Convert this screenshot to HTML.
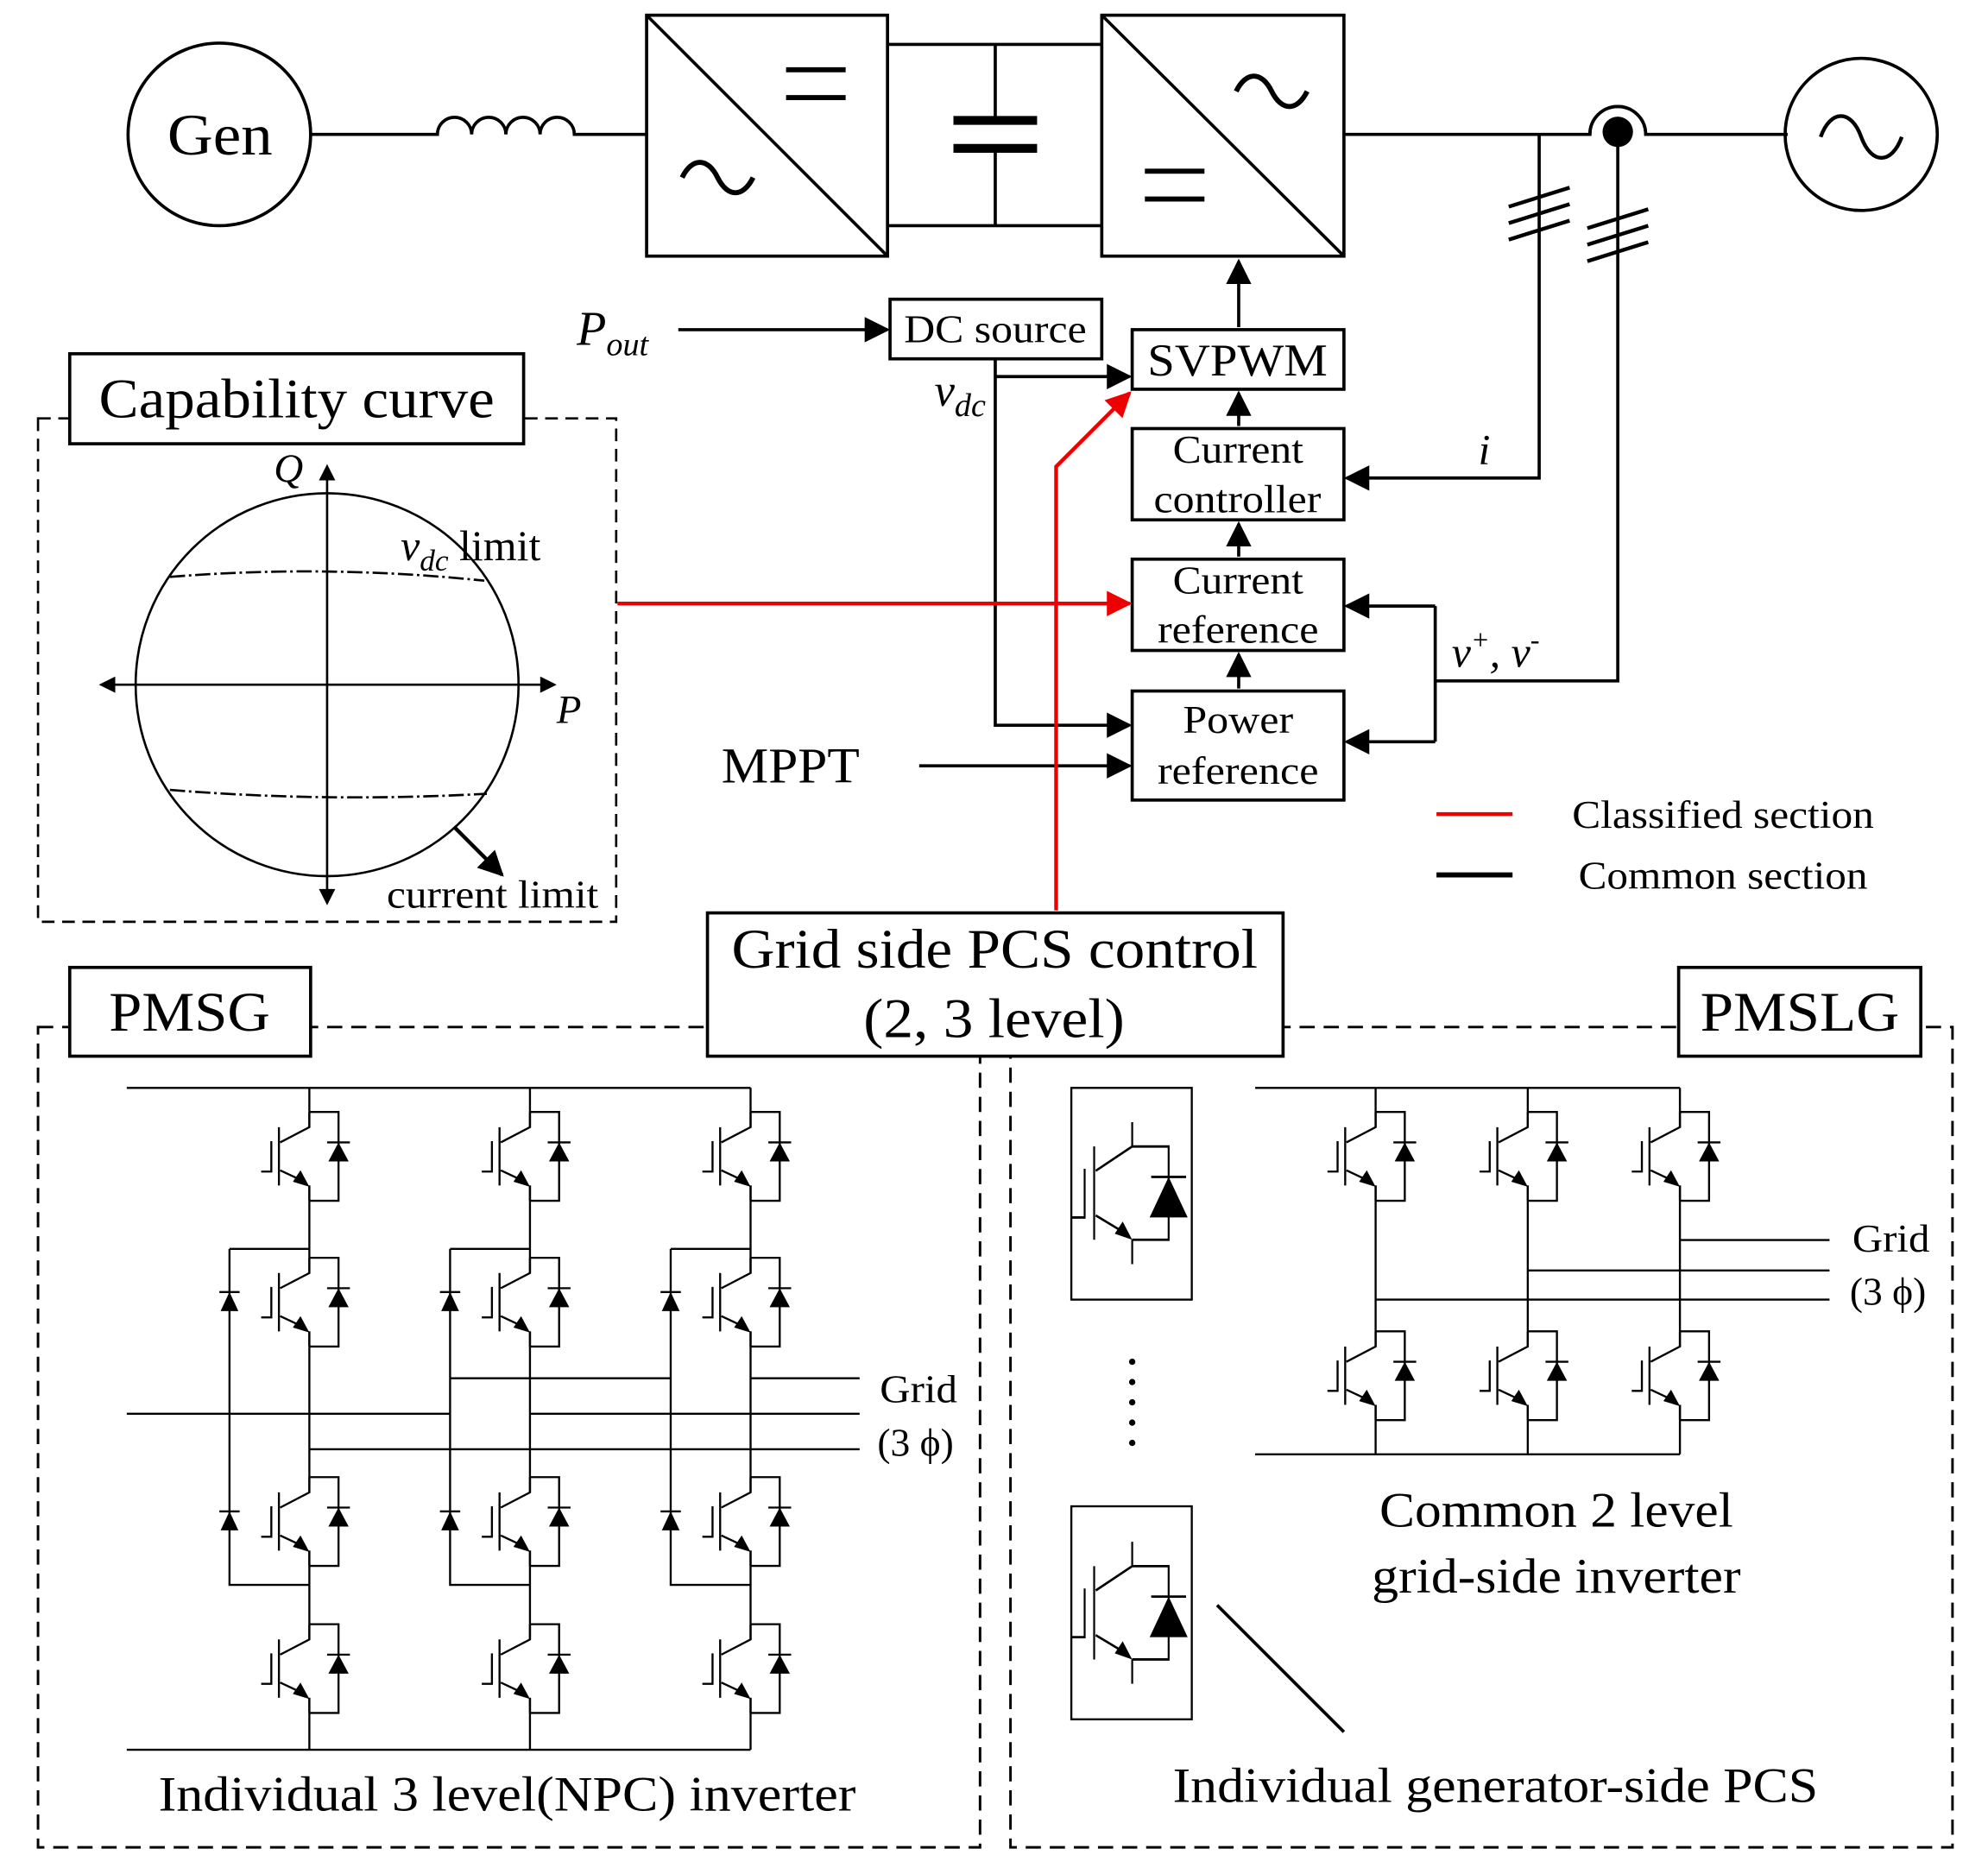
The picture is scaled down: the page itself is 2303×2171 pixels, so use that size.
<!DOCTYPE html>
<html><head><meta charset="utf-8"><style>html,body{margin:0;padding:0;background:#fff}svg{display:block}</style></head>
<body>
<svg width="2303" height="2171" viewBox="0 0 1568 1478" preserveAspectRatio="none" xmlns="http://www.w3.org/2000/svg" font-family="Liberation Serif, serif">
<defs>
<g id="ig">
<path d="M0,-35V-23L-23,-11M-24,-23V23M-30,-12V12H-38M-23,11L-6,19M0,23V35M0,-35H23V35H0M14,-11H32" fill="none" stroke="#000" stroke-width="1.6"/>
<polygon points="0,24 -13,20 -7,11" fill="#000"/>
<polygon points="23,-11 15,4 31,4" fill="#000"/>
</g>
<g id="dd"><path d="M-8,-8H8" stroke="#000" stroke-width="1.6"/><polygon points="0,-8 -7,7 7,7" fill="#000"/></g>
<marker id="abig" markerWidth="20" markerHeight="20" refX="18" refY="10" orient="auto" markerUnits="userSpaceOnUse"><path d="M0,0L20,10L0,20z" fill="#000"/></marker>
<marker id="arbig" markerWidth="20" markerHeight="20" refX="18" refY="10" orient="auto" markerUnits="userSpaceOnUse"><path d="M0,0L20,10L0,20z" fill="#e00"/></marker>
</defs>
<g fill="none" stroke="#000" stroke-width="2.5">
<circle cx="173" cy="106" r="72"/>
<path d="M245,106H345a13,13 0 0 1 27,0a13,13 0 0 1 27,0a13,13 0 0 1 27,0a13,13 0 0 1 27,0H510"/>
<rect x="510" y="12" width="190" height="190"/><path d="M510,12L700,202"/>
<path d="M620,55H667M620,77H667" stroke-width="4"/>
<path d="M538,140c8,-16 20,-16 28,0s20,16 28,0" stroke-width="4"/>
<path d="M700,35H869M700,178H869M785,35V95M785,117V178"/>
<path d="M752,95H818M752,117H818" stroke-width="7"/>
<rect x="869" y="12" width="191" height="190"/><path d="M869,12L1060,202"/>
<path d="M975,72c8,-16 20,-16 28,0s20,16 28,0" stroke-width="4"/>
<path d="M903,135H950M903,157H950" stroke-width="4"/>
<path d="M1060,106H1254a22,22 0 0 1 44,0H1410"/>
<circle cx="1468" cy="106" r="60"/>
<path d="M1436,108c8,-22 24,-22 32,0s24,22 32,0" stroke-width="3"/>
<path d="M1214,106V377H1062" marker-end="url(#abig)"/>
<path d="M1276,104V537H1132M1132,478V585"/>
<path d="M1132,478H1062" marker-end="url(#abig)"/><path d="M1132,585H1062" marker-end="url(#abig)"/>
<path d="M1190,163L1238,148M1190,176L1238,161M1190,189L1238,174M1252,180L1300,165M1252,193L1300,178M1252,206L1300,191" stroke-width="3"/>
<rect x="893" y="260" width="167" height="47"/>
<rect x="893" y="338" width="167" height="72"/>
<rect x="893" y="441" width="167" height="72"/>
<rect x="893" y="545" width="167" height="86"/>
<rect x="702" y="236" width="167" height="47"/>
<path d="M977,258V206" marker-end="url(#abig)"/>
<path d="M977,336V310" marker-end="url(#abig)"/>
<path d="M977,439V413" marker-end="url(#abig)"/>
<path d="M977,543V516" marker-end="url(#abig)"/>
<path d="M535,260H700" marker-end="url(#abig)"/>
<path d="M785,283V572H891" marker-end="url(#abig)"/>
<path d="M785,297H891" marker-end="url(#abig)"/>
<path d="M725,604H891" marker-end="url(#abig)"/>
</g>
<circle cx="1276" cy="104" r="12" fill="#000"/>
<g fill="none" stroke="#e00" stroke-width="3">
<path d="M833,718V368L891,310" marker-end="url(#arbig)"/>
<path d="M487,476H891" marker-end="url(#arbig)"/>
<path d="M1133,642H1193"/>
</g>
<path d="M1133,690H1193" stroke="#000" stroke-width="4"/>
<g fill="none" stroke="#000" stroke-width="1.8">
<rect x="30" y="330" width="456" height="397" stroke-dasharray="10,6"/>
<circle cx="258" cy="540" r="151"/>
<path d="M80,540H437M258,368V712"/>
<path d="M134,455Q258,445 382,458M134,623Q258,633 384,626" stroke-dasharray="12,3,2,3"/>
<path d="M358,652L396,690" stroke-width="3" marker-end="url(#abig)"/>
<path d="M80,540l10,-5v10zM437,540l-10,-5v10zM258,368l-5,10h10zM258,712l-5,-10h10z" fill="#000"/>
</g>
<rect x="55" y="279" width="358" height="71" fill="#fff" stroke="#000" stroke-width="2.5"/>
<g fill="none" stroke="#000" stroke-width="2" stroke-dasharray="12,7">
<rect x="30" y="810" width="743" height="647"/>
<rect x="797" y="810" width="743" height="647"/>
</g>
<g fill="#fff" stroke="#000" stroke-width="2.5">
<rect x="558" y="720" width="454" height="113"/>
<rect x="55" y="763" width="190" height="70"/>
<rect x="1324" y="763" width="191" height="70"/>
</g>
<g fill="none" stroke="#000" stroke-width="1.6">
<path d="M100,858H592M100,1380H592"/>
<path d="M244,858V889M244,935V1004M244,1050V1177M244,1223V1293M244,1339V1380"/>
<path d="M418,858V889M418,935V1004M418,1050V1177M418,1223V1293M418,1339V1380"/>
<path d="M592,858V889M592,935V1004M592,1050V1177M592,1223V1293M592,1339V1380"/>
<path d="M181,985H244M181,985V1250H244M355,985H418M355,985V1250H418M529,985H592M529,985V1250H592"/>
<path d="M355,1087H529M592,1087H678M100,1115H355M418,1115H678M244,1143H678"/>
</g>
<use href="#ig" x="244" y="912"/><use href="#ig" x="244" y="1027"/><use href="#ig" x="244" y="1200"/><use href="#ig" x="244" y="1316"/>
<use href="#ig" x="418" y="912"/><use href="#ig" x="418" y="1027"/><use href="#ig" x="418" y="1200"/><use href="#ig" x="418" y="1316"/>
<use href="#ig" x="592" y="912"/><use href="#ig" x="592" y="1027"/><use href="#ig" x="592" y="1200"/><use href="#ig" x="592" y="1316"/>
<use href="#dd" x="181" y="1027"/><use href="#dd" x="181" y="1200"/><use href="#dd" x="355" y="1027"/><use href="#dd" x="355" y="1200"/><use href="#dd" x="529" y="1027"/><use href="#dd" x="529" y="1200"/>
<g fill="none" stroke="#000" stroke-width="1.6">
<path d="M990,858H1325M990,1147H1325"/>
<path d="M1085,858V889M1085,935V1062M1085,1108V1147M1205,858V889M1205,935V1062M1205,1108V1147M1325,858V889M1325,935V1062M1325,1108V1147"/>
<path d="M1325,978H1443M1205,1002H1443M1085,1025H1443"/>
<rect x="845" y="858" width="95" height="167"/>
<rect x="845" y="1188" width="95" height="168"/>
<path d="M960,1266L1060,1366" stroke-width="2.5"/>
</g>
<use href="#ig" x="1085" y="912"/><use href="#ig" x="1205" y="912"/><use href="#ig" x="1325" y="912"/>
<use href="#ig" x="1085" y="1085"/><use href="#ig" x="1205" y="1085"/><use href="#ig" x="1325" y="1085"/>
<g transform="translate(893,941) scale(1.25,1.6)"><path d="M0,-35V-23L-23,-11M-24,-23V23M-30,-12V12H-38M-23,11L-6,19M0,23V35M0,-23H23V23H0M12,-8H34" fill="none" stroke="#000" stroke-width="1.2"/><polygon points="0,23 -11,20 -6,14" fill="#000"/><polygon points="23,-8 11,12 35,12" fill="#000"/></g>
<g transform="translate(893,1272) scale(1.25,1.6)"><path d="M0,-35V-23L-23,-11M-24,-23V23M-30,-12V12H-38M-23,11L-6,19M0,23V35M0,-23H23V23H0M12,-8H34" fill="none" stroke="#000" stroke-width="1.2"/><polygon points="0,23 -11,20 -6,14" fill="#000"/><polygon points="23,-8 11,12 35,12" fill="#000"/></g>
<g fill="#000"><circle cx="893" cy="1074" r="2.5"/><circle cx="893" cy="1090" r="2.5"/><circle cx="893" cy="1106" r="2.5"/><circle cx="893" cy="1122" r="2.5"/><circle cx="893" cy="1138" r="2.5"/></g>
<g fill="#000">
<text x="132" y="122" font-size="46" textLength="83" lengthAdjust="spacingAndGlyphs">Gen</text>
<text x="455" y="272" font-size="38" font-style="italic">P<tspan font-size="26" dy="8">out</tspan></text>
<text x="713" y="270" font-size="31" textLength="144" lengthAdjust="spacingAndGlyphs">DC source</text>
<text x="737" y="320" font-size="36" font-style="italic">v<tspan font-size="26" dy="8">dc</tspan></text>
<text x="905" y="296" font-size="36" textLength="142" lengthAdjust="spacingAndGlyphs">SVPWM</text>
<text x="925" y="365" font-size="31" textLength="103" lengthAdjust="spacingAndGlyphs">Current</text>
<text x="910" y="404" font-size="31" textLength="132" lengthAdjust="spacingAndGlyphs">controller</text>
<text x="925" y="468" font-size="31" textLength="103" lengthAdjust="spacingAndGlyphs">Current</text>
<text x="913" y="507" font-size="31" textLength="127" lengthAdjust="spacingAndGlyphs">reference</text>
<text x="933" y="578" font-size="31" textLength="87" lengthAdjust="spacingAndGlyphs">Power</text>
<text x="913" y="618" font-size="31" textLength="127" lengthAdjust="spacingAndGlyphs">reference</text>
<text x="1166" y="366" font-size="34" font-style="italic">i</text>
<text x="1145" y="526" font-size="34" font-style="italic">v<tspan font-size="22" dy="-14">+</tspan><tspan dy="14">, v</tspan><tspan font-size="22" dy="-14">-</tspan></text>
<text x="569" y="617" font-size="40" textLength="109" lengthAdjust="spacingAndGlyphs">MPPT</text>
<text x="1240" y="653" font-size="31" textLength="238" lengthAdjust="spacingAndGlyphs">Classified section</text>
<text x="1245" y="701" font-size="31" textLength="228" lengthAdjust="spacingAndGlyphs">Common section</text>
<text x="78" y="329" font-size="44" textLength="312" lengthAdjust="spacingAndGlyphs">Capability curve</text>
<text x="216" y="380" font-size="32" font-style="italic">Q</text>
<text x="439" y="570" font-size="32" font-style="italic">P</text>
<text x="316" y="442" font-size="34"><tspan font-style="italic">v<tspan font-size="24" dy="8">dc</tspan></tspan><tspan dy="-8"> limit</tspan></text>
<text x="305" y="716" font-size="31" textLength="167" lengthAdjust="spacingAndGlyphs">current limit</text>
<text x="577" y="763" font-size="44" textLength="415" lengthAdjust="spacingAndGlyphs">Grid side PCS control</text>
<text x="681" y="818" font-size="44" textLength="206" lengthAdjust="spacingAndGlyphs">(2, 3 level)</text>
<text x="86" y="813" font-size="44" textLength="127" lengthAdjust="spacingAndGlyphs">PMSG</text>
<text x="1341" y="813" font-size="44" textLength="157" lengthAdjust="spacingAndGlyphs">PMSLG</text>
<text x="694" y="1106" font-size="31" textLength="61" lengthAdjust="spacingAndGlyphs">Grid</text>
<text x="692" y="1148" font-size="31">(3 ϕ)</text>
<text x="1461" y="987" font-size="31" textLength="61" lengthAdjust="spacingAndGlyphs">Grid</text>
<text x="1459" y="1029" font-size="31">(3 ϕ)</text>
<text x="125" y="1428" font-size="39" textLength="550" lengthAdjust="spacingAndGlyphs">Individual 3 level(NPC) inverter</text>
<text x="1088" y="1204" font-size="39" textLength="279" lengthAdjust="spacingAndGlyphs">Common 2 level</text>
<text x="1082" y="1256" font-size="39" textLength="291" lengthAdjust="spacingAndGlyphs">grid-side inverter</text>
<text x="925" y="1421" font-size="39" textLength="509" lengthAdjust="spacingAndGlyphs">Individual generator-side PCS</text>
</g>
<path d="M1254,106a22,22 0 0 1 44,0" fill="none" stroke="#000" stroke-width="2.5"/>
</svg>
</body></html>
